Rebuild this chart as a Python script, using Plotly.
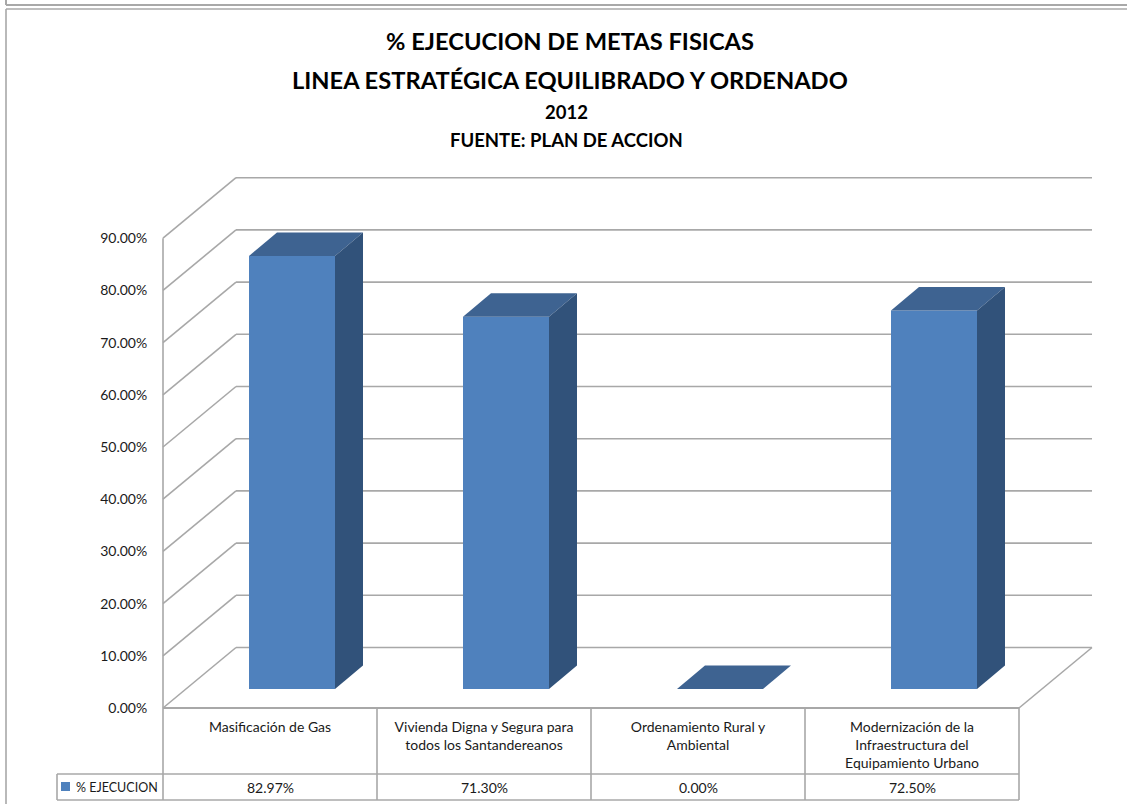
import plotly.graph_objects as go

# ---- data ----
categories = ["Masificación de Gas",
              "Vivienda Digna y Segura para<br>todos los Santandereanos",
              "Ordenamiento Rural y<br>Ambiental",
              "Modernización de la<br>Infraestructura del<br>Equipamiento Urbano"]
values = [0.8297, 0.7130, 0.0, 0.7250]
y_ticks = [0.0, 0.1, 0.2, 0.3, 0.4, 0.5, 0.6, 0.7, 0.8, 0.9]
series_name = "% EJECUCION"

# ---- geometry ----
W, H = 1127, 804
FONT = "Lato"
GRID = "#a8a8a8"
FRONT, TOP, SIDE = "#4f81bd", "#3e6391", "#31527a"

# plot area in page pixels, with pixel -> data scale
L, R, T, B = 160, 1096, 174, 712
X0_PX, X_UNIT = 270.0, 214.0     # centre of first category, width of category
Y0_PX, Y_UNIT = 708.0, 522.0     # zero line, pixels per 1.0 (100%)
xr = [(L - X0_PX) / X_UNIT, (R - X0_PX) / X_UNIT]
yr = [(Y0_PX - B) / Y_UNIT, (Y0_PX - T) / Y_UNIT]

# 3D projection in data units
DX, DY = 73.0 / X_UNIT, 60.5 / Y_UNIT        # full floor depth
BAR_DX, BAR_DY = 28.0 / X_UNIT, 23.5 / Y_UNIT  # bar depth
BASE = 19.0 / Y_UNIT                          # bar floor lift
BAR_LEFT, BAR_W = -21.0 / X_UNIT, 86.0 / X_UNIT
FLOOR_L, FLOOR_R = -0.5, len(categories) - 0.5

px = lambda v: (v - L) / (R - L)
py = lambda v: (B - v) / (B - T)

positions = list(range(len(categories)))
fig = go.Figure()

# front faces
fig.add_trace(go.Bar(
    x=positions, y=values, base=[BASE] * len(values),
    width=BAR_W, offset=BAR_LEFT, name=series_name,
    marker=dict(color=FRONT, line=dict(width=0)),
    showlegend=False, hoverinfo="skip"))

# tops and sides
for p, v in zip(positions, values):
    xl, xr_ = p + BAR_LEFT, p + BAR_LEFT + BAR_W
    yt, yb = BASE + v, BASE
    fig.add_trace(go.Scatter(
        x=[xl, xr_, xr_ + BAR_DX, xl + BAR_DX, xl],
        y=[yt, yt, yt + BAR_DY, yt + BAR_DY, yt],
        mode="lines", fill="toself", fillcolor=TOP, line=dict(width=0),
        showlegend=False, hoverinfo="skip"))
    if v > 0:
        fig.add_trace(go.Scatter(
            x=[xr_, xr_ + BAR_DX, xr_ + BAR_DX, xr_, xr_],
            y=[yb, yb + BAR_DY, yt + BAR_DY, yt, yb],
            mode="lines", fill="toself", fillcolor=SIDE, line=dict(width=0),
            showlegend=False, hoverinfo="skip"))

shapes = []
def seg(x0, y0, x1, y1, width=1.6, color=GRID, xref="x", yref="y", layer="below"):
    shapes.append(dict(type="line", x0=x0, y0=y0, x1=x1, y1=y1, xref=xref, yref=yref,
                       layer=layer, line=dict(color=color, width=width)))

# walls: diagonal + back gridline for each tick
for t in y_ticks:
    seg(FLOOR_L, t, FLOOR_L + DX, t + DY)
    seg(FLOOR_L + DX, t + DY, FLOOR_R + DX, t + DY)
seg(FLOOR_L, y_ticks[0], FLOOR_L, y_ticks[-1])
seg(FLOOR_L, 0, FLOOR_R, 0, width=2)
seg(FLOOR_R, 0, FLOOR_R + DX, DY)

# page frames
seg(px(6), py(5), px(1127), py(5), width=2, xref="paper", yref="paper")
seg(px(6), py(0), px(6), py(5), width=2, xref="paper", yref="paper")
seg(px(6), py(9), px(1127), py(9), width=1.6, xref="paper", yref="paper")
seg(px(6), py(9), px(6), py(804), width=1.6, xref="paper", yref="paper")

# data table
ROW1, ROW2, TABLE_L = 774, 800, 57
for x_col in [FLOOR_L + i for i in range(len(categories) + 1)]:
    xp = px(X0_PX + x_col * X_UNIT)
    seg(xp, py(708), xp, py(800), xref="paper", yref="paper", layer="above")
seg(px(TABLE_L), py(ROW1), px(1019), py(ROW1), xref="paper", yref="paper", layer="above")
seg(px(TABLE_L), py(ROW2), px(1019), py(ROW2), xref="paper", yref="paper", layer="above")
seg(px(TABLE_L), py(ROW1), px(TABLE_L), py(ROW2), xref="paper", yref="paper", layer="above")

# legend key in the table
shapes.append(dict(type="rect", x0=px(61), x1=px(70), y0=py(791), y1=py(782),
                   xref="paper", yref="paper", layer="above",
                   fillcolor=FRONT, line=dict(width=0)))

annotations = [dict(x=px(75), y=py(787), xref="paper", yref="paper", text=series_name,
                    showarrow=False, font=dict(family=FONT, size=12.5, color="#1a1a1a"),
                    xanchor="left", yanchor="middle", xshift=-1)]
for p, v in zip(positions, values):
    annotations.append(dict(x=p, y=py(787), xref="x", yref="paper", text=f"{v*100:.2f}%",
                            showarrow=False, font=dict(family=FONT, size=14, color="#1a1a1a"),
                            xanchor="center", yanchor="middle"))
annotations += [
    dict(x=px(570), y=py(41), xref="paper", yref="paper", text="<b>% EJECUCION DE METAS FISICAS</b>", showarrow=False,
         font=dict(family=FONT, size=23.7, color="black"), xanchor="center", yanchor="middle"),
    dict(x=px(570), y=py(80), xref="paper", yref="paper", text="<b>LINEA ESTRATÉGICA EQUILIBRADO Y ORDENADO</b>", showarrow=False,
         font=dict(family=FONT, size=23.7, color="black"), xanchor="center", yanchor="middle"),
    dict(x=px(566), y=py(112), xref="paper", yref="paper", text="<b>2012</b>", showarrow=False,
         font=dict(family=FONT, size=18.5, color="black"), xanchor="center", yanchor="middle"),
    dict(x=px(566), y=py(140), xref="paper", yref="paper", text="<b>FUENTE: PLAN DE ACCION</b>", showarrow=False,
         font=dict(family=FONT, size=18.5, color="black"), xanchor="center", yanchor="middle"),
]

fig.update_layout(
    width=W, height=H, autosize=False,
    margin=dict(l=L, r=W - R, t=T, b=H - B, pad=0, autoexpand=False),
    paper_bgcolor="white", plot_bgcolor="white",
    font=dict(family=FONT, size=14, color="#1a1a1a"),
    barmode="overlay", showlegend=False,
    shapes=shapes, annotations=annotations,
    xaxis=dict(range=xr, tickmode="array", tickvals=positions, ticktext=categories,
               showgrid=False, zeroline=False, showline=False, ticks="outside", ticklen=2,
               tickcolor="rgba(0,0,0,0)", tickangle=0, fixedrange=True,
               tickfont=dict(family=FONT, size=14, color="#1a1a1a")),
    yaxis=dict(range=yr, tickmode="array", tickvals=y_ticks,
               ticktext=[f"{t*100:.2f}%" for t in y_ticks],
               showgrid=False, zeroline=False, showline=False, ticks="outside", ticklen=9,
               tickcolor="rgba(0,0,0,0)", fixedrange=True,
               tickfont=dict(family=FONT, size=14, color="#1a1a1a")),
)

fig.write_html("out.html", config=dict(displayModeBar=False),
               post_script="document.body.style.margin='0';document.body.style.overflow='hidden';")
